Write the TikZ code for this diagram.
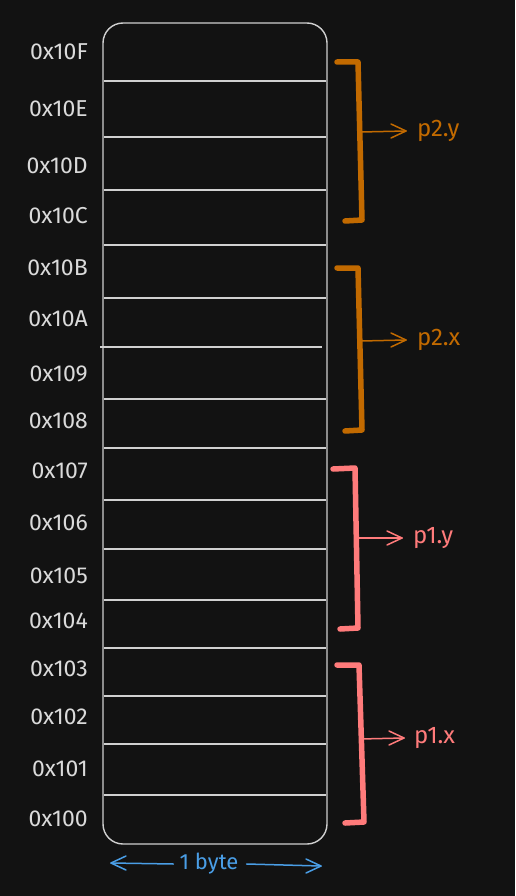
\documentclass[tikz,border=0pt]{standalone}
\usepackage{fontspec}
\setmainfont{Fira Sans}
\definecolor{bg}{HTML}{121212}
\definecolor{cellline}{HTML}{D0D0D0}
\definecolor{orng}{HTML}{C26A00}
\definecolor{pnk}{HTML}{FF7B7B}
\definecolor{blu}{HTML}{4A9EE6}
\definecolor{addr}{HTML}{DADADA}
\newcommand\mychev[3]{\draw[ptr,#3] ([shift={({#2*(-15)},-7)}]#1) -- (#1) -- ([shift={({#2*(-15)},7)}]#1);}
\begin{document}
\begin{tikzpicture}[x=1pt,y=-1pt,
  addrlabel/.style={anchor=east, text=addr, font=\fontsize{23}{26}\selectfont, inner sep=0pt},
  cell/.style={draw=cellline, line width=1.4pt},
  brk/.style={line width=5.5pt, line cap=round, line join=round},
  ptr/.style={line width=1.5pt, line cap=round, line join=round},
  fieldlabel/.style={anchor=west, font=\fontsize{24}{27}\selectfont, inner sep=0pt}]
\fill[bg] (0,0) rectangle (515,896);
\useasboundingbox (0,0) rectangle (515,896);
% memory column
\draw[cell, rounded corners=20pt] (103,23) rectangle (327,844);
\foreach \yy in {81,137,190,245,298,399,448,500,549,600,648,696,744,795}
  \draw[cell] (104,\yy) -- (326,\yy);
\draw[cell] (100,347) -- (322,347);
% addresses
\foreach \t/\yy in {0x10F/52,0x10E/109,0x10D/166,0x10C/216,0x10B/268,0x10A/319,0x109/374,0x108/421,0x107/471,0x106/523,0x105/576,0x104/621,0x103/669,0x102/717,0x101/769,0x100/819}
  \node[addrlabel] (a\t) at (88,\yy) {\t};
% p2.y
\draw[brk, orng] (337,62) -- (358,62) -- (362,220) -- (345,221);
\coordinate (b1) at (361,132);
\node[fieldlabel, text=orng] (p2y) at (417,131) {p2.y};
\coordinate (t1) at ([xshift=-11pt]p2y.west);
\draw[ptr, orng] (b1) -- (t1);
\mychev{t1}{1}{orng}
% p2.x
\draw[brk, orng] (337,268) -- (358,268) -- (362,430) -- (345,431);
\coordinate (b2) at (361,341);
\node[fieldlabel, text=orng] (p2x) at (417,340) {p2.x};
\coordinate (t2) at ([xshift=-11pt]p2x.west);
\draw[ptr, orng] (b2) -- (t2);
\mychev{t2}{1}{orng}
% p1.y
\draw[brk, pnk] (333,469) -- (355,468) -- (358,628) -- (340,629);
\coordinate (b3) at (358,538);
\node[fieldlabel, text=pnk] (p1y) at (413,538) {p1.y};
\coordinate (t3) at ([xshift=-11pt]p1y.west);
\draw[ptr, pnk] (b3) -- (t3);
\mychev{t3}{1}{pnk}
% p1.x
\draw[brk, pnk] (337,665) -- (359,665) -- (364,822) -- (345,823);
\coordinate (b4) at (360,739);
\node[fieldlabel, text=pnk] (p1x) at (414,738) {p1.x};
\coordinate (t4) at ([xshift=-10pt]p1x.west);
\draw[ptr, pnk] (b4) -- (t4);
\mychev{t4}{1}{pnk}
% 1 byte
\node[font=\fontsize{22}{26}\selectfont, text=blu, inner sep=0pt] (byte) at (209,864) {1 byte};
\coordinate (bl) at (111,863);
\coordinate (br) at (321,866);
\draw[ptr, blu] ([xshift=-6pt]byte.west) -- (bl);
\draw[ptr, blu] ([xshift=8pt]byte.east) -- (br);
\mychev{bl}{-1}{blu}
\mychev{br}{1}{blu}
\end{tikzpicture}
\end{document}
